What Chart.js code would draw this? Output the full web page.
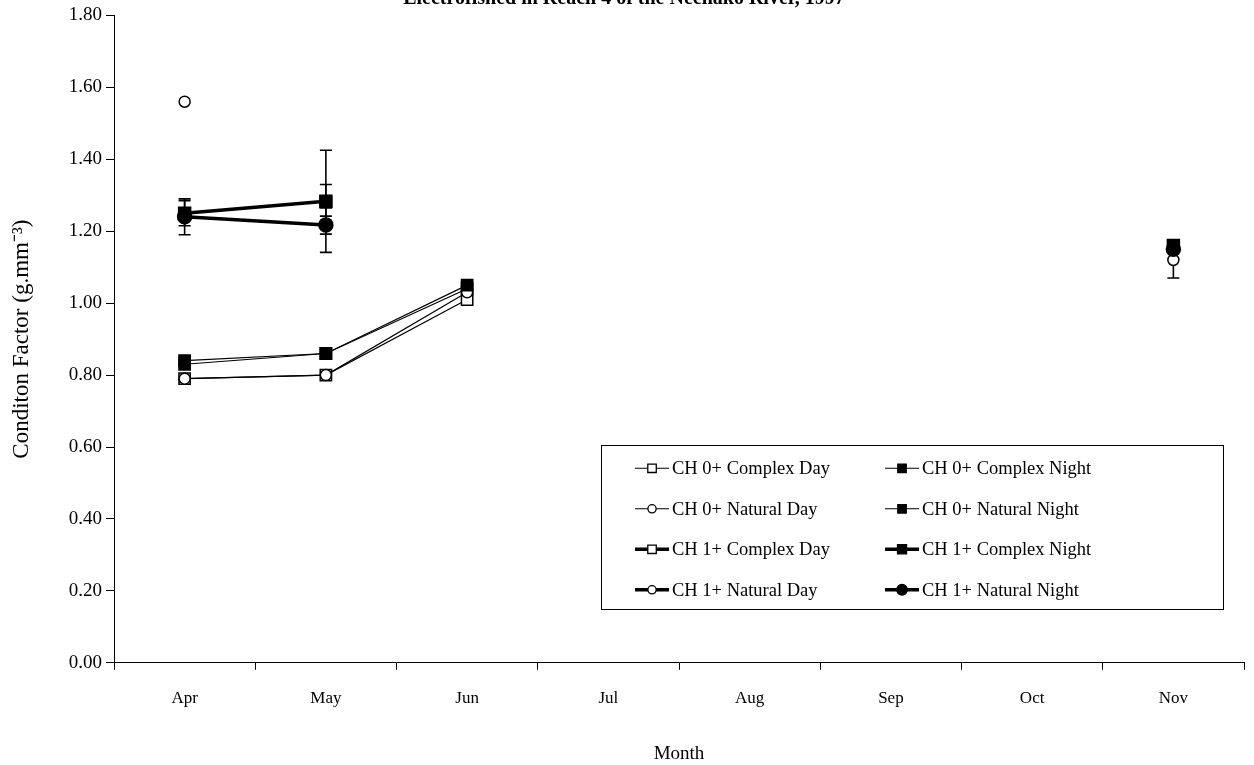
<!DOCTYPE html>
<html>
<head>
<meta charset="utf-8">
<script src="https://cdn.jsdelivr.net/npm/chart.js@4.4.1/dist/chart.umd.min.js"></script>
<style>
  html, body { margin: 0; padding: 0; background: #fff; }
</style>
</head>
<body>
<canvas id="cf" width="1254" height="765"></canvas>
<script>
// months on the x axis
const months = ['Apr', 'May', 'Jun', 'Jul', 'Aug', 'Sep', 'Oct', 'Nov'];

// condition factor values
const ch0ComplexDay   = [0.79, 0.80, 1.01, null, null, null, null, null];
const ch0ComplexNight = [0.84, 0.86, 1.05, null, null, null, null, null];
const ch0NaturalDay   = [0.79, 0.80, 1.03, null, null, null, null, null];
const ch0NaturalNight = [0.83, 0.86, 1.04, null, null, null, null, null];
const ch1ComplexDay   = [null, 1.28, null, null, null, null, null, null];
const ch1ComplexNight = [1.25, 1.283, null, null, null, null, null, 1.16];
const ch1NaturalDay   = [1.56, null, null, null, null, null, null, 1.12];
const ch1NaturalNight = [1.24, 1.217, null, null, null, null, null, 1.15];

// error bars (+/-)
const ch1ComplexDayErr   = [null, 0.05, null, null, null, null, null, null];
const ch1ComplexNightErr = [0.035, 0.142, null, null, null, null, null, null];
const ch1NaturalDayErr   = [null, null, null, null, null, null, null, 0.05];
const ch1NaturalNightErr = [0.05, 0.025, null, null, null, null, null, null];

const serif = "'Liberation Serif', 'Times New Roman', serif";

function series(label, data, opts) {
    return Object.assign({
        label: label,
        data: data,
        borderColor: '#000',
        pointBorderColor: '#000',
        pointBorderWidth: 1.5,
        pointHoverRadius: 0,
        spanGaps: false,
        tension: 0
    }, opts);
}

const thin = 1.2, thick = 3.5;

const datasets = [
    series('CH 0+ Complex Day', ch0ComplexDay, { borderWidth: thin, pointStyle: 'rect', pointRadius: 8, pointBackgroundColor: '#fff', order: 2 }),
    series('CH 0+ Complex Night', ch0ComplexNight, { borderWidth: thin, pointStyle: 'rect', pointRadius: 8, pointBackgroundColor: '#000', order: 1 }),
    series('CH 0+ Natural Day', ch0NaturalDay, { borderWidth: thin, pointStyle: 'circle', pointRadius: 5.5, pointBackgroundColor: '#fff', order: 1 }),
    series('CH 0+ Natural Night', ch0NaturalNight, { borderWidth: thin, pointStyle: 'rect', pointRadius: 8, pointBackgroundColor: '#000', order: 1 }),
    series('CH 1+ Complex Day', ch1ComplexDay, { borderWidth: thick, pointStyle: 'rect', pointRadius: 8, pointBackgroundColor: '#fff', order: 3, errors: ch1ComplexDayErr }),
    series('CH 1+ Complex Night', ch1ComplexNight, { borderWidth: thick, pointStyle: 'rect', pointRadius: 8.5, pointBackgroundColor: '#000', order: 0, errors: ch1ComplexNightErr }),
    series('CH 1+ Natural Day', ch1NaturalDay, { borderWidth: thick, pointStyle: 'circle', pointRadius: 5.5, pointBackgroundColor: '#fff', order: 1, errors: ch1NaturalDayErr }),
    series('CH 1+ Natural Night', ch1NaturalNight, { borderWidth: thick, pointStyle: 'circle', pointRadius: 7, pointBackgroundColor: '#000', order: 0, errors: ch1NaturalNightErr })
];

// vertical error bars with caps, drawn behind the markers
const errorBars = {
    id: 'errorBars',
    beforeDatasetsDraw(chart) {
        const ctx = chart.ctx;
        const x = chart.scales.x, y = chart.scales.y;
        ctx.save();
        ctx.strokeStyle = '#000';
        ctx.lineWidth = 1.6;
        chart.data.datasets.forEach(ds => {
            if (!ds.errors) return;
            ds.data.forEach((v, i) => {
                const e = ds.errors[i];
                if (v == null || e == null) return;
                const px = x.getPixelForValue(i);
                const top = y.getPixelForValue(v + e);
                const bot = y.getPixelForValue(v - e);
                ctx.beginPath();
                ctx.moveTo(px, top); ctx.lineTo(px, bot);
                ctx.moveTo(px - 6, top); ctx.lineTo(px + 6, top);
                ctx.moveTo(px - 6, bot); ctx.lineTo(px + 6, bot);
                ctx.stroke();
            });
        });
        ctx.restore();
    }
};

// boxed two-column legend inside the plot area
function marker(ctx, ds, cx, cy, scale) {
    const r = ds.pointRadius * scale;
    ctx.fillStyle = ds.pointBackgroundColor;
    ctx.strokeStyle = '#000';
    ctx.lineWidth = 1.3;
    ctx.beginPath();
    if (ds.pointStyle === 'rect') {
        const s = r * Math.SQRT1_2;
        ctx.rect(cx - s, cy - s, 2 * s, 2 * s);
    } else {
        ctx.arc(cx, cy, r, 0, Math.PI * 2);
    }
    ctx.fill();
    ctx.stroke();
}

const boxLegend = {
    id: 'boxLegend',
    afterDraw(chart) {
        const ctx = chart.ctx;
        const a = chart.chartArea;
        const bx = a.left + 0.431 * (a.right - a.left);
        const by = a.top + 0.664 * (a.bottom - a.top);
        const bw = 622, bh = 164;
        ctx.save();
        ctx.strokeStyle = '#000';
        ctx.lineWidth = 1;
        ctx.strokeRect(Math.round(bx) + 0.5, Math.round(by) + 0.5, bw, bh);
        ctx.font = '18.5px ' + serif;
        ctx.textBaseline = 'middle';
        ctx.fillStyle = '#000';
        chart.data.datasets.forEach((ds, i) => {
            const col = i % 2, row = Math.floor(i / 2);
            const sx = bx + 34 + col * 250;
            const sy = by + 23 + row * 40.5;
            ctx.strokeStyle = '#000';
            ctx.lineWidth = ds.borderWidth;
            ctx.beginPath();
            ctx.moveTo(sx, sy); ctx.lineTo(sx + 34, sy);
            ctx.stroke();
            marker(ctx, ds, sx + 17, sy, 0.75);
            ctx.fillStyle = '#000';
            ctx.fillText(ds.label, sx + 37, sy + 1);
        });
        ctx.restore();
    }
};

new Chart(document.getElementById('cf'), {
    type: 'line',
    data: { labels: months, datasets: datasets },
    plugins: [errorBars, boxLegend],
    options: {
        responsive: false,
        animation: false,
        devicePixelRatio: 1,
        layout: { padding: { left: 0, right: 6, top: 0, bottom: 0 } },
        plugins: {
            legend: { display: false },
            tooltip: { enabled: false },
            title: {
                display: true,
                text: 'Electrofished in Reach 4 of the Nechako River, 1997',
                color: '#000',
                font: { family: serif, size: 20, weight: 'bold' },
                padding: { top: -14, bottom: 5 }
            }
        },
        scales: {
            x: {
                offset: true,
                grid: { offset: true, drawOnChartArea: false, drawTicks: true, tickLength: 7, color: '#000', tickColor: '#000' },
                border: { color: '#000', width: 1 },
                ticks: { color: '#000', font: { family: serif, size: 17 }, padding: 19, maxRotation: 0 },
                title: { display: true, text: 'Month', color: '#000', font: { family: serif, size: 19 }, padding: { top: 14, bottom: 0 } }
            },
            y: {
                min: 0,
                max: 1.8,
                afterFit(scale) { scale.width = 114; },
                afterBuildTicks(scale) {
                    scale.ticks = [0, 0.2, 0.4, 0.6, 0.8, 1.0, 1.2, 1.4, 1.6, 1.8].map(v => ({ value: v }));
                },
                grid: { drawOnChartArea: false, drawTicks: true, tickLength: 8, color: '#000', tickColor: '#000' },
                border: { color: '#000', width: 1 },
                ticks: { color: '#000', font: { family: serif, size: 19 }, padding: 4, callback: v => Number(v).toFixed(2) },
                title: { display: true, text: 'Conditon Factor (g.mm\u207B\u00B3)', color: '#000', font: { family: serif, size: 23 }, padding: { top: 8, bottom: 0 } }
            }
        }
    }
});
</script>
</body>
</html>
